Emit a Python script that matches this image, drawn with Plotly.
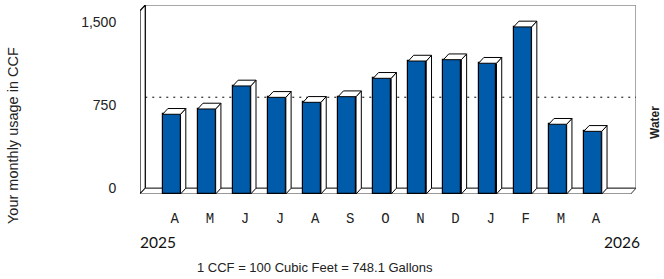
import plotly.graph_objects as go

months = ["A", "M", "J", "J", "A", "S", "O", "N", "D", "J", "F", "M", "A"]
usage = [720, 768, 976, 873, 828, 879, 1045, 1201, 1213, 1181, 1509, 630, 566]
ref_level = 822
y_ticks = [0, 750, 1500]
y_tick_text = ["0", "750", "1,500"]
year_start = "2025"
year_end = "2026"
y_title = "Your monthly usage in CCF"
note = "1 CCF = 100 Cubic Feet = 748.1 Gallons"
side_label = "Water"

BLUE = "#005BAA"
W = 0.51      # bar width (category units)
DX = 0.15     # depth offset x (category units)
DY = 52       # depth offset y (value units)
X0, X1 = -0.9, 13.23
YMAX = 1707

fig = go.Figure()

shapes = []
# back wall
shapes.append(dict(type="rect", xref="x", yref="y", x0=X0 + DX, x1=X1, y0=DY, y1=YMAX,
                   line=dict(color="#8c8c8c", width=1.5), fillcolor="white", layer="below"))
# left side wall
shapes.append(dict(type="path", xref="x", yref="y",
                   path=f"M{X0},0 L{X0},{YMAX-DY} L{X0+DX},{YMAX} L{X0+DX},{DY} Z",
                   line=dict(color="black", width=1.2), fillcolor="white", layer="below"))
# floor
shapes.append(dict(type="path", xref="x", yref="y",
                   path=f"M{X0},0 L{X1-DX},0 L{X1},{DY} L{X0+DX},{DY} Z",
                   line=dict(color="#333333", width=1), fillcolor="white", layer="below"))
# reference dashed line on back wall
shapes.append(dict(type="line", xref="x", yref="y", x0=X0 + DX, x1=X1, y0=ref_level + DY, y1=ref_level + DY,
                   line=dict(color="black", width=1, dash="2px,5px"), layer="below"))
fig.update_layout(shapes=shapes)

idx = list(range(len(months)))

for i, v in zip(idx, usage):
    xl, xr = i - W / 2, i + W / 2
    fig.add_trace(go.Scatter(
        x=[xr, xr + DX, xr + DX, xr, xr], y=[0, DY, v + DY, v, 0],
        mode="lines", fill="toself", fillcolor="white",
        line=dict(color="black", width=1), hoverinfo="skip", showlegend=False))
    fig.add_trace(go.Scatter(
        x=[xl, xr, xr + DX, xl + DX, xl], y=[v, v, v + DY, v + DY, v],
        mode="lines", fill="toself", fillcolor="white",
        line=dict(color="black", width=1), hoverinfo="skip", showlegend=False))

fig.add_trace(go.Bar(x=idx, y=usage, width=W, marker=dict(color=BLUE, line=dict(color="black", width=1.2)),
                     showlegend=False, hovertemplate="%{y}<extra></extra>"))

fig.update_xaxes(range=[X0, X1], tickmode="array", tickvals=[i + 0.09 for i in idx], ticktext=months,
                 showgrid=False, zeroline=False, showline=False, ticks="outside", ticklen=11,
                 tickcolor="rgba(0,0,0,0)", automargin=False,
                 tickfont=dict(family="Liberation Mono", size=14, color="#222"))
fig.update_yaxes(range=[0, YMAX], tickmode="array", tickvals=[t + DY for t in y_ticks], ticktext=y_tick_text,
                 showgrid=False, zeroline=False, showline=False, ticks="outside", ticklen=20,
                 tickcolor="rgba(0,0,0,0)", automargin=False,
                 tickfont=dict(family="Liberation Sans", size=14, color="#222"))

def px_x(px):
    return (px - 140) / 496

def px_y(py):
    return (194 - py) / 189

ann = [
    dict(text=y_title, x=px_x(13), y=px_y(136), textangle=-90,
         font=dict(family="Liberation Sans", size=14.5, color="#222")),
    dict(text=f"<b>{side_label}</b>", x=px_x(655), y=px_y(123), textangle=-90,
         font=dict(family="Liberation Sans", size=12, color="#222")),
    dict(text=year_start, x=px_x(158), y=px_y(242),
         font=dict(family="Lato", size=15.5, color="#111")),
    dict(text=year_end, x=px_x(622), y=px_y(242),
         font=dict(family="Lato", size=15.5, color="#111")),
    dict(text=note, x=px_x(315), y=px_y(267),
         font=dict(family="Liberation Sans", size=13, color="#222")),
]
for a in ann:
    a.update(xref="paper", yref="paper", showarrow=False, xanchor="center", yanchor="middle")
fig.update_layout(annotations=ann)

fig.update_layout(template="none", width=664, height=279, margin=dict(l=140, r=28, t=5, b=85, pad=0),
                  plot_bgcolor="white", paper_bgcolor="white", bargap=0)

fig.write_html("out.html", config={"displayModeBar": False},
               post_script="document.body.style.margin='0';document.body.style.overflow='hidden';")
